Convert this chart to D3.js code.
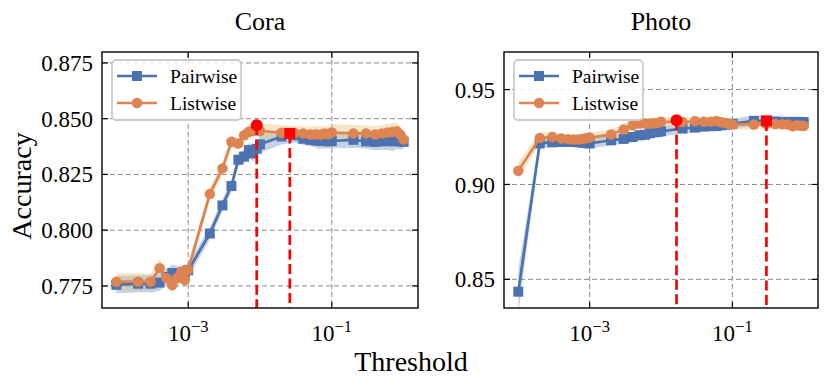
<!DOCTYPE html>
<html>
<head>
<meta charset="utf-8">
<script src="https://cdn.jsdelivr.net/npm/d3@7"></script>
<style>
  body { margin: 0; background: #fff; }
  svg { display: block; font-family: "Liberation Serif", "Times New Roman", serif; }
</style>
</head>
<body>
<svg width="830" height="388"></svg>
<script>
(function (d3) {
  'use strict';

  // thresholds shared by both datasets
  const thresholds = [
    1e-4, 2e-4, 3e-4, 4e-4, 5e-4, 6e-4, 7e-4, 8e-4, 9e-4,
    1e-3, 2e-3, 3e-3, 4e-3, 5e-3, 6e-3, 7e-3, 8e-3, 9e-3,
    1e-2, 2e-2, 3e-2, 4e-2, 5e-2, 6e-2, 7e-2, 8e-2, 9e-2,
    0.1, 0.2, 0.3, 0.4, 0.5, 0.6, 0.7, 0.8, 0.9, 1.0
  ];

  const seriesNames = ['Pairwise', 'Listwise'];

  // Cora
  const coraPairwise = [
    0.7755, 0.7760, 0.7760, 0.7765, 0.7790, 0.7808, 0.7800, 0.7800, 0.7810,
    0.7820, 0.7985, 0.8111, 0.8198, 0.8316, 0.8330, 0.8359, 0.8344, 0.8365,
    0.8385, 0.8420, 0.8425, 0.8410, 0.8405, 0.8402, 0.8400, 0.8400, 0.8398,
    0.8400, 0.8405, 0.8398, 0.8396, 0.8398, 0.8400, 0.8398, 0.8402, 0.8398, 0.8396
  ];
  const coraPairwiseStd = [
    0.0038, 0.0038, 0.0040, 0.0038, 0.0036, 0.0038, 0.0040, 0.0038, 0.0036,
    0.0032, 0.0028, 0.0026, 0.0026, 0.0028, 0.0032, 0.0032, 0.0036, 0.0036,
    0.0038, 0.0036, 0.0032, 0.0028, 0.0028, 0.0032, 0.0036, 0.0032, 0.0032,
    0.0032, 0.0036, 0.0032, 0.0038, 0.0038, 0.0040, 0.0044, 0.0038, 0.0036, 0.0032
  ];
  const coraListwise = [
    0.7769, 0.7769, 0.7769, 0.7829, 0.7784, 0.7754, 0.7785, 0.7814, 0.7777,
    0.7822, 0.8162, 0.8277, 0.8396, 0.8389, 0.8426, 0.8441, 0.8445, 0.8471,
    0.8445, 0.8437, 0.8436, 0.8434, 0.8429, 0.8430, 0.8429, 0.8434, 0.8430,
    0.8438, 0.8434, 0.8434, 0.8429, 0.8434, 0.8438, 0.8440, 0.8444, 0.8429, 0.8407
  ];
  const coraListwiseStd = [
    0.0038, 0.0038, 0.0036, 0.0044, 0.0038, 0.0036, 0.0038, 0.0038, 0.0036,
    0.0032, 0.0028, 0.0026, 0.0026, 0.0028, 0.0032, 0.0032, 0.0032, 0.0028,
    0.0032, 0.0036, 0.0032, 0.0032, 0.0036, 0.0038, 0.0036, 0.0032, 0.0036,
    0.0038, 0.0038, 0.0036, 0.0038, 0.0036, 0.0038, 0.0040, 0.0038, 0.0036, 0.0032
  ];
  const coraBestThreshold = [0.026, 0.009];
  const coraBestAccuracy = [0.8434, 0.8471];
  const coraYTicks = [0.775, 0.800, 0.825, 0.850, 0.875];

  // Photo
  const photoPairwise = [
    0.8435, 0.9216, 0.9222, 0.9224, 0.9224, 0.9224, 0.9222, 0.9220, 0.9218,
    0.9216, 0.9233, 0.9240, 0.9250, 0.9259, 0.9262, 0.9270, 0.9275, 0.9277,
    0.9280, 0.9295, 0.9300, 0.9305, 0.9307, 0.9308, 0.9312, 0.9315, 0.9317,
    0.9320, 0.9335, 0.9335, 0.9332, 0.9329, 0.9330, 0.9329, 0.9330, 0.9329, 0.9329
  ];
  const photoPairwiseStd = [
    0.0120, 0.0026, 0.0024, 0.0026, 0.0024, 0.0026, 0.0024, 0.0026, 0.0026,
    0.0026, 0.0028, 0.0026, 0.0028, 0.0026, 0.0024, 0.0026, 0.0026, 0.0024,
    0.0026, 0.0028, 0.0026, 0.0026, 0.0024, 0.0026, 0.0026, 0.0024, 0.0026,
    0.0026, 0.0028, 0.0026, 0.0026, 0.0024, 0.0026, 0.0026, 0.0024, 0.0026, 0.0024
  ];
  const photoListwise = [
    0.9072, 0.9245, 0.9250, 0.9242, 0.9238, 0.9237, 0.9237, 0.9240, 0.9245,
    0.9247, 0.9263, 0.9289, 0.9312, 0.9321, 0.9321, 0.9321, 0.9322, 0.9324,
    0.9330, 0.9329, 0.9333, 0.9330, 0.9331, 0.9335, 0.9328, 0.9324, 0.9320,
    0.9316, 0.9316, 0.9320, 0.9318, 0.9317, 0.9316, 0.9307, 0.9312, 0.9310, 0.9308
  ];
  const photoListwiseStd = [
    0.0045, 0.0032, 0.0028, 0.0026, 0.0028, 0.0026, 0.0026, 0.0028, 0.0026,
    0.0026, 0.0028, 0.0032, 0.0028, 0.0026, 0.0028, 0.0026, 0.0026, 0.0028,
    0.0028, 0.0026, 0.0026, 0.0028, 0.0026, 0.0026, 0.0026, 0.0028, 0.0026,
    0.0026, 0.0026, 0.0024, 0.0026, 0.0026, 0.0024, 0.0026, 0.0026, 0.0024, 0.0026
  ];
  const photoBestThreshold = [0.30, 0.0165];
  const photoBestAccuracy = [0.9335, 0.9338];
  const photoYTicks = [0.85, 0.90, 0.95];

  const xTicks = [1e-3, 1e-1];

  const colors = ['#4c72b0', '#dd8452'];
  const bandColors = ['#4c72b0', '#e3c47f'];
  const bandOpacity = [0.32, 0.42];

  const svg = d3.select('svg');

  const superscript = { '-': '\u2212', '0': '0', '1': '1', '2': '2', '3': '3' };

  const markerPath = (shape, size) => shape === 'square'
    ? d3.symbol(d3.symbolSquare, size * size)()
    : d3.symbol(d3.symbolCircle, Math.PI * (size / 2) * (size / 2))();

  const panel = (selection, props) => {
    const {
      id, title, box, yDomain, yTicks, yFormat,
      series, stds, bestX, bestY
    } = props;

    const xScale = d3.scaleLog()
      .domain([Math.pow(10, -4.2), Math.pow(10, 0.2)])
      .range([box.left, box.right]);
    const yScale = d3.scaleLinear()
      .domain(yDomain)
      .range([box.bottom, box.top]);

    const g = selection.append('g').attr('class', 'panel-' + id);

    g.append('defs').append('clipPath')
        .attr('id', 'clip-' + id)
      .append('rect')
        .attr('x', box.left)
        .attr('y', box.top)
        .attr('width', box.right - box.left)
        .attr('height', box.bottom - box.top);

    // grid
    const grid = g.append('g')
      .attr('stroke', '#8a8a8a')
      .attr('stroke-width', 1)
      .attr('stroke-dasharray', '5,3');
    grid.selectAll('.gx').data(xTicks).enter().append('line')
      .attr('x1', d => xScale(d)).attr('x2', d => xScale(d))
      .attr('y1', box.top).attr('y2', box.bottom);
    grid.selectAll('.gy').data(yTicks).enter().append('line')
      .attr('y1', d => yScale(d)).attr('y2', d => yScale(d))
      .attr('x1', box.left).attr('x2', box.right);

    const plot = g.append('g').attr('clip-path', `url(#clip-${id})`);

    // std bands
    series.forEach((values, i) => {
      const area = d3.area()
        .x((d, j) => xScale(thresholds[j]))
        .y0((d, j) => yScale(d - stds[i][j]))
        .y1((d, j) => yScale(d + stds[i][j]));
      plot.append('path')
        .attr('d', area(values))
        .attr('fill', bandColors[i])
        .attr('fill-opacity', bandOpacity[i])
        .attr('stroke', 'none');
    });

    // lines + markers
    const shapes = ['square', 'circle'];
    const line = d3.line()
      .x((d, j) => xScale(thresholds[j]))
      .y(d => yScale(d));
    series.forEach((values, i) => {
      plot.append('path')
        .attr('d', line(values))
        .attr('fill', 'none')
        .attr('stroke', colors[i])
        .attr('stroke-width', 2.7)
        .attr('stroke-linejoin', 'round');
      plot.selectAll('.m' + i).data(values).enter().append('path')
        .attr('class', 'm' + i)
        .attr('transform', (d, j) => `translate(${xScale(thresholds[j])},${yScale(d)})`)
        .attr('d', markerPath(shapes[i], shapes[i] === 'square' ? 10 : 10.5))
        .attr('fill', colors[i]);
    });

    // best thresholds
    bestX.forEach((bx, i) => {
      plot.append('line')
        .attr('x1', xScale(bx)).attr('x2', xScale(bx))
        .attr('y1', yScale(bestY[i])).attr('y2', box.bottom)
        .attr('stroke', '#ff0000')
        .attr('stroke-width', 2.7)
        .attr('stroke-dasharray', '10,4.5');
      plot.append('path')
        .attr('transform', `translate(${xScale(bx)},${yScale(bestY[i])})`)
        .attr('d', markerPath(shapes[i], shapes[i] === 'square' ? 11 : 12))
        .attr('fill', '#ff0000');
    });

    // frame
    g.append('rect')
      .attr('x', box.left).attr('y', box.top)
      .attr('width', box.right - box.left)
      .attr('height', box.bottom - box.top)
      .attr('fill', 'none')
      .attr('stroke', '#000')
      .attr('stroke-width', 1.4);

    // inward ticks, all sides
    const ticks = g.append('g').attr('stroke', '#000').attr('stroke-width', 1.2);
    xTicks.forEach(t => {
      const x = xScale(t);
      ticks.append('line').attr('x1', x).attr('x2', x).attr('y1', box.bottom).attr('y2', box.bottom - 6);
      ticks.append('line').attr('x1', x).attr('x2', x).attr('y1', box.top).attr('y2', box.top + 6);
    });
    yTicks.forEach(t => {
      const y = yScale(t);
      ticks.append('line').attr('y1', y).attr('y2', y).attr('x1', box.left).attr('x2', box.left + 6);
      ticks.append('line').attr('y1', y).attr('y2', y).attr('x1', box.right).attr('x2', box.right - 6);
    });

    // tick labels
    g.selectAll('.ylab').data(yTicks).enter().append('text')
      .attr('x', box.left - 9)
      .attr('y', d => yScale(d))
      .attr('dy', '0.35em')
      .attr('text-anchor', 'end')
      .attr('font-size', 23)
      .text(d => d3.format(yFormat)(d));

    xTicks.forEach(t => {
      const exp = Math.round(Math.log10(t)).toString()
        .split('').map(c => superscript[c]).join('');
      const txt = g.append('text')
        .attr('x', xScale(t))
        .attr('y', box.bottom + 33)
        .attr('text-anchor', 'middle')
        .attr('font-size', 23);
      txt.append('tspan').text('10');
      txt.append('tspan')
        .attr('font-size', 16.5)
        .attr('dy', -9)
        .text(exp);
    });

    // title
    g.append('text')
      .attr('x', (box.left + box.right) / 2)
      .attr('y', box.top - 22)
      .attr('text-anchor', 'middle')
      .attr('font-size', 26)
      .text(title);

    // legend
    const lg = g.append('g')
      .attr('transform', `translate(${box.left + 10},${box.top + 8})`);
    lg.append('rect')
      .attr('width', 129).attr('height', 60)
      .attr('rx', 4)
      .attr('fill', '#fff')
      .attr('fill-opacity', 0.85)
      .attr('stroke', '#cccccc')
      .attr('stroke-width', 1.8);
    seriesNames.forEach((name, i) => {
      const y = 16 + i * 27;
      lg.append('line')
        .attr('x1', 5).attr('x2', 45)
        .attr('y1', y).attr('y2', y)
        .attr('stroke', colors[i])
        .attr('stroke-width', 2.7);
      lg.append('path')
        .attr('transform', `translate(25,${y})`)
        .attr('d', markerPath(shapes[i], shapes[i] === 'square' ? 10 : 10.5))
        .attr('fill', colors[i]);
      lg.append('text')
        .attr('x', 58).attr('y', y)
        .attr('dy', '0.35em')
        .attr('font-size', 19.5)
        .text(name);
    });
  };

  svg.call(panel, {
    id: 'cora',
    title: 'Cora',
    box: { left: 102, right: 418, top: 52, bottom: 308 },
    yDomain: [0.7651, 0.8799],
    yTicks: coraYTicks,
    yFormat: '.3f',
    series: [coraPairwise, coraListwise],
    stds: [coraPairwiseStd, coraListwiseStd],
    bestX: coraBestThreshold,
    bestY: coraBestAccuracy
  });

  svg.call(panel, {
    id: 'photo',
    title: 'Photo',
    box: { left: 504, right: 818, top: 52, bottom: 308 },
    yDomain: [0.8349, 0.9698],
    yTicks: photoYTicks,
    yFormat: '.2f',
    series: [photoPairwise, photoListwise],
    stds: [photoPairwiseStd, photoListwiseStd],
    bestX: photoBestThreshold,
    bestY: photoBestAccuracy
  });

  // shared axis labels
  svg.append('text')
    .attr('x', 411)
    .attr('y', 371)
    .attr('text-anchor', 'middle')
    .attr('font-size', 28)
    .text('Threshold');

  svg.append('text')
    .attr('transform', 'translate(31,186) rotate(-90)')
    .attr('text-anchor', 'middle')
    .attr('font-size', 28)
    .text('Accuracy');

}(d3));
</script>
</body>
</html>
